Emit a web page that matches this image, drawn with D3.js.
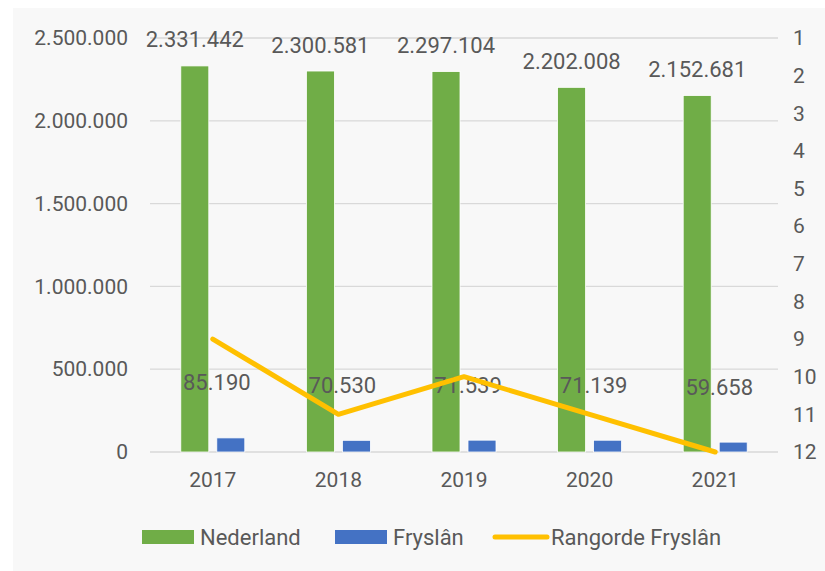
<!DOCTYPE html>
<html>
<head>
<meta charset="utf-8">
<script src="https://cdn.jsdelivr.net/npm/d3@7"></script>
<style>
  body { margin: 0; background: #fff; }
  svg text { font-family: Roboto, "Noto Sans", sans-serif; fill: #595959; }
</style>
</head>
<body>
<div id="chart"></div>
<script>
const years = ['2017', '2018', '2019', '2020', '2021'];
const nederland = [2331442, 2300581, 2297104, 2202008, 2152681];
const fryslan = [85190, 70530, 71539, 71139, 59658];
const rangorde = [9, 11, 10, 11, 12];
const leftTicks = [0, 500000, 1000000, 1500000, 2000000, 2500000];
const rightTicks = [1, 2, 3, 4, 5, 6, 7, 8, 9, 10, 11, 12];
const seriesNames = ['Nederland', 'Fryslân'];
const colors = { 'Nederland': '#70ad47', 'Fryslân': '#4472c4', line: '#ffc000' };

const W = 825, H = 571;
const plot = { left: 150, right: 778, top: 38, bottom: 452 };

const nl = d3.formatLocale({ decimal: ',', thousands: '.', grouping: [3], currency: ['€', ''] });
const fmt = nl.format(',d');

const svg = d3.select('#chart').append('svg')
  .attr('width', W).attr('height', H);

svg.append('rect')
  .attr('x', 13).attr('y', 8)
  .attr('width', W - 13).attr('height', H - 8)
  .attr('fill', '#f8f8f8');

const x = d3.scaleBand().domain(years).range([plot.left, plot.right]);
const xs = d3.scaleBand().domain(seriesNames).range([-32, 32]).paddingInner(0.222);
const y = d3.scaleLinear().domain([0, 2500000]).range([plot.bottom, plot.top]);
const yr = d3.scaleLinear().domain([1, 12]).range([plot.top, plot.bottom]);

// gridlines
svg.append('g')
  .selectAll('line').data(leftTicks).join('line')
  .attr('x1', plot.left).attr('x2', plot.right)
  .attr('y1', d => y(d)).attr('y2', d => y(d))
  .attr('stroke', '#d9d9d9').attr('stroke-width', 1.3);

// left axis
const axL = svg.append('g')
  .attr('transform', `translate(${plot.left - 22},0)`)
  .call(d3.axisLeft(y).tickValues(leftTicks).tickFormat(fmt).tickSize(0).tickPadding(0));
axL.select('.domain').remove();
axL.selectAll('text').style('font-size', '21px').attr('fill', '#595959');

// right axis
const axR = svg.append('g')
  .attr('transform', `translate(${plot.right + 15},0)`)
  .call(d3.axisRight(yr).tickValues(rightTicks).tickSize(0).tickPadding(0));
axR.select('.domain').remove();
axR.selectAll('text').style('font-size', '21px').attr('fill', '#595959');

// bottom axis
const axB = svg.append('g')
  .attr('transform', `translate(0,${plot.bottom + 14})`)
  .call(d3.axisBottom(x).tickSize(0).tickPadding(6));
axB.select('.domain').remove();
axB.selectAll('text').style('font-size', '21px').attr('fill', '#595959');

const rows = years.map((yv, i) => ({ year: yv, Nederland: nederland[i], 'Fryslân': fryslan[i], rank: rangorde[i] }));

// bars
const groups = svg.append('g').selectAll('g').data(rows).join('g')
  .attr('transform', d => `translate(${x(d.year) + x.bandwidth() / 2},0)`);

groups.selectAll('rect')
  .data(d => seriesNames.map(k => ({ key: k, value: d[k] })))
  .join('rect')
  .attr('x', d => xs(d.key))
  .attr('width', xs.bandwidth())
  .attr('y', d => y(d.value))
  .attr('height', d => y(0) - y(d.value))
  .attr('fill', d => colors[d.key])
  .attr('stroke', '#ffffff').attr('stroke-width', 0.8);

// line
const line = d3.line()
  .x(d => x(d.year) + x.bandwidth() / 2)
  .y(d => yr(d.rank));
svg.append('path').datum(rows)
  .attr('d', line)
  .attr('fill', 'none')
  .attr('stroke', colors.line)
  .attr('stroke-width', 5)
  .attr('stroke-linecap', 'round')
  .attr('stroke-linejoin', 'round');

// data labels
groups.append('text')
  .attr('x', xs('Nederland') + xs.bandwidth() / 2)
  .attr('y', d => y(d.Nederland) - 26)
  .attr('text-anchor', 'middle')
  .attr('dominant-baseline', 'central')
  .style('font-size', '22px')
  .attr('fill', '#404040')
  .text(d => fmt(d.Nederland));

groups.append('text')
  .attr('x', xs('Fryslân') + xs.bandwidth() / 2 - 14)
  .attr('y', d => y(d['Fryslân']) - 55)
  .attr('text-anchor', 'middle')
  .attr('dominant-baseline', 'central')
  .style('font-size', '22px')
  .attr('fill', '#404040')
  .text(d => fmt(d['Fryslân']));

// legend
const legend = svg.append('g');
const legendItems = [
  { name: 'Nederland', type: 'rect', x: 142 },
  { name: 'Fryslân', type: 'rect', x: 335 },
  { name: 'Rangorde Fryslân', type: 'line', x: 493 }
];
legendItems.forEach(it => {
  if (it.type === 'rect') {
    legend.append('rect')
      .attr('x', it.x).attr('y', 530)
      .attr('width', 52).attr('height', 14)
      .attr('fill', colors[it.name]);
  } else {
    legend.append('line')
      .attr('x1', it.x + 2).attr('x2', it.x + 54)
      .attr('y1', 537).attr('y2', 537)
      .attr('stroke', colors.line).attr('stroke-width', 5)
      .attr('stroke-linecap', 'round');
  }
  legend.append('text')
    .attr('x', it.x + 58).attr('y', 537)
    .attr('dominant-baseline', 'central')
    .style('font-size', '22px')
    .attr('fill', '#595959')
    .text(it.name);
});
</script>
</body>
</html>
